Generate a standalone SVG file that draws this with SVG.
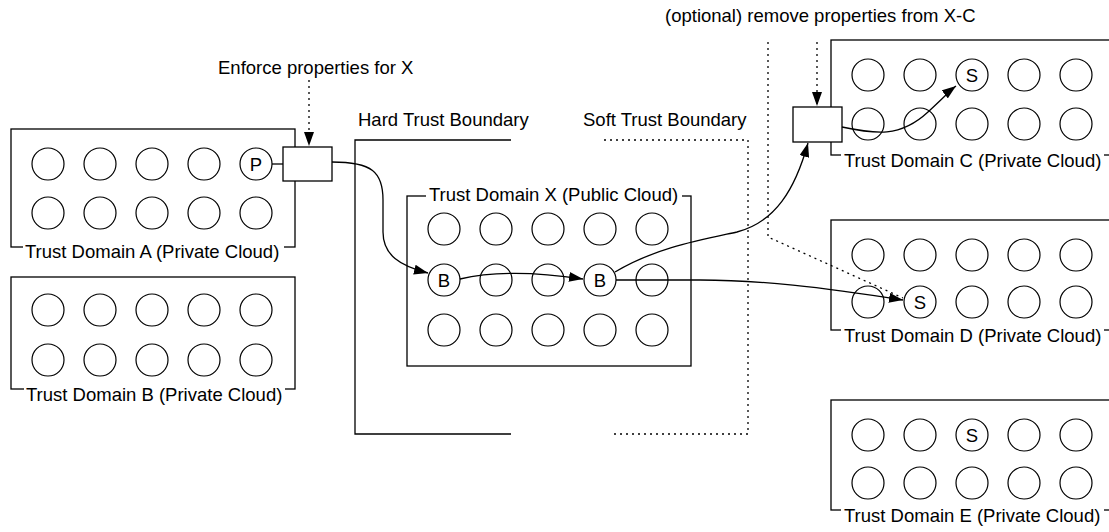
<svg xmlns="http://www.w3.org/2000/svg" width="1109" height="532" viewBox="0 0 1109 532">
<defs>
<style>
.bx{fill:none;stroke:#000;stroke-width:1.3}
.gw{fill:#fff;stroke:#000;stroke-width:1.3}
.c{fill:none;stroke:#000;stroke-width:1.2}
.t{font-family:"Liberation Sans",Arial,Helvetica,sans-serif;font-size:18.5px;fill:#000}
.ct{font-family:"Liberation Sans",Arial,Helvetica,sans-serif;font-size:18.5px;fill:#000;text-anchor:middle}
.mk{fill:#fff;stroke:none}
.ln{fill:none;stroke:#000;stroke-width:1.3}
.dt{fill:none;stroke:#000;stroke-width:1.3;stroke-dasharray:2 4}
</style>
<marker id="ah" markerWidth="14" markerHeight="10" refX="14" refY="5" orient="auto" markerUnits="userSpaceOnUse">
<path d="M0,0 L14,5 L0,10 z" fill="#000"/>
</marker>
</defs>
<rect width="1109" height="532" fill="#fff"/>

<g id="domain-a">
<rect class="bx" x="11" y="129" width="284" height="118"/>
<rect class="mk" x="23" y="244" width="261" height="6"/>
<text class="t" x="25" y="257.5">Trust Domain A (Private Cloud)</text>
<circle class="c" cx="48" cy="164" r="16"/><circle class="c" cx="100" cy="164" r="16"/><circle class="c" cx="152" cy="164" r="16"/><circle class="c" cx="204" cy="164" r="16"/><circle class="c" cx="256" cy="164" r="16"/>
<text class="ct" x="256" y="170.5">P</text>
<circle class="c" cx="48" cy="213" r="16"/><circle class="c" cx="100" cy="213" r="16"/><circle class="c" cx="152" cy="213" r="16"/><circle class="c" cx="204" cy="213" r="16"/><circle class="c" cx="256" cy="213" r="16"/>
</g>

<g id="gateway-a">
<rect class="gw" x="283" y="147" width="49" height="34"/>
</g>

<g id="domain-b">
<rect class="bx" x="11" y="277" width="284" height="112"/>
<rect class="mk" x="24" y="386" width="261" height="6"/>
<text class="t" x="26" y="400.5">Trust Domain B (Private Cloud)</text>
<circle class="c" cx="48" cy="310" r="16"/><circle class="c" cx="100" cy="310" r="16"/><circle class="c" cx="152" cy="310" r="16"/><circle class="c" cx="204" cy="310" r="16"/><circle class="c" cx="256" cy="310" r="16"/>
<circle class="c" cx="48" cy="360" r="16"/><circle class="c" cx="100" cy="360" r="16"/><circle class="c" cx="152" cy="360" r="16"/><circle class="c" cx="204" cy="360" r="16"/><circle class="c" cx="256" cy="360" r="16"/>
</g>

<g id="hard-boundary">
<path class="ln" d="M511,140 H355 V434 H511"/>
<text class="t" x="358" y="126">Hard Trust Boundary</text>
</g>

<g id="soft-boundary">
<path class="dt" d="M604,140 H748 V434 H610"/>
<text class="t" x="583" y="126">Soft Trust Boundary</text>
<path class="dt" d="M768,42 V237 L903,298"/>
</g>

<g id="domain-x">
<rect class="bx" x="407" y="196" width="284" height="170"/>
<rect class="mk" x="426" y="192" width="256" height="8"/>
<text class="t" x="429" y="201">Trust Domain X (Public Cloud)</text>
<circle class="c" cx="444" cy="229" r="16"/><circle class="c" cx="496" cy="229" r="16"/><circle class="c" cx="548" cy="229" r="16"/><circle class="c" cx="600" cy="229" r="16"/><circle class="c" cx="652" cy="229" r="16"/>
<circle class="c" cx="444" cy="280" r="16"/><circle class="c" cx="496" cy="280" r="16"/><circle class="c" cx="548" cy="280" r="16"/><circle class="c" cx="600" cy="280" r="16"/><circle class="c" cx="652" cy="280" r="16"/>
<text class="ct" x="444" y="286.5">B</text>
<text class="ct" x="600" y="286.5">B</text>
<circle class="c" cx="444" cy="330" r="16"/><circle class="c" cx="496" cy="330" r="16"/><circle class="c" cx="548" cy="330" r="16"/><circle class="c" cx="600" cy="330" r="16"/><circle class="c" cx="652" cy="330" r="16"/>
</g>

<g id="domain-c">
<rect class="bx" x="831" y="40" width="284" height="115"/>
<rect class="mk" x="841" y="152" width="263" height="6"/>
<text class="t" x="844" y="167">Trust Domain C (Private Cloud)</text>
<circle class="c" cx="868" cy="75" r="16"/><circle class="c" cx="920" cy="75" r="16"/><circle class="c" cx="972" cy="75" r="16"/><circle class="c" cx="1024" cy="75" r="16"/><circle class="c" cx="1076" cy="75" r="16"/>
<text class="ct" x="972" y="81.5">S</text>
<circle class="c" cx="868" cy="124" r="16"/><circle class="c" cx="920" cy="124" r="16"/><circle class="c" cx="972" cy="124" r="16"/><circle class="c" cx="1024" cy="124" r="16"/><circle class="c" cx="1076" cy="124" r="16"/>
</g>

<g id="gateway-c">
<rect class="gw" x="793" y="107" width="49" height="35"/>
</g>

<g id="domain-d">
<rect class="bx" x="831" y="220" width="284" height="110"/>
<rect class="mk" x="841" y="327" width="263" height="6"/>
<text class="t" x="844" y="342">Trust Domain D (Private Cloud)</text>
<circle class="c" cx="868" cy="255" r="16"/><circle class="c" cx="920" cy="255" r="16"/><circle class="c" cx="972" cy="255" r="16"/><circle class="c" cx="1024" cy="255" r="16"/><circle class="c" cx="1076" cy="255" r="16"/>
<circle class="c" cx="868" cy="302" r="16"/><circle class="c" cx="920" cy="302" r="16"/><circle class="c" cx="972" cy="302" r="16"/><circle class="c" cx="1024" cy="302" r="16"/><circle class="c" cx="1076" cy="302" r="16"/>
<text class="ct" x="920" y="308.5">S</text>
</g>

<g id="domain-e">
<rect class="bx" x="831" y="400" width="284" height="110"/>
<rect class="mk" x="841" y="507" width="263" height="6"/>
<text class="t" x="844" y="522">Trust Domain E (Private Cloud)</text>
<circle class="c" cx="868" cy="435" r="16"/><circle class="c" cx="920" cy="435" r="16"/><circle class="c" cx="972" cy="435" r="16"/><circle class="c" cx="1024" cy="435" r="16"/><circle class="c" cx="1076" cy="435" r="16"/>
<text class="ct" x="972" y="441.5">S</text>
<circle class="c" cx="868" cy="483" r="16"/><circle class="c" cx="920" cy="483" r="16"/><circle class="c" cx="972" cy="483" r="16"/><circle class="c" cx="1024" cy="483" r="16"/><circle class="c" cx="1076" cy="483" r="16"/>
</g>

<g id="annotations">
<text class="t" x="218" y="73.5">Enforce properties for X</text>
<text class="t" x="665" y="22">(optional) remove properties from X-C</text>
</g>

<g id="connectors">
<path class="ln" d="M272,164 H283"/>
<path class="ln" d="M332,162 C372,162 383,172 383,200 L383,232 C383,255 400,266 428,273" marker-end="url(#ah)"/>
<path class="ln" d="M460,279 C490,272 530,271 583,279" marker-end="url(#ah)"/>
<path class="ln" d="M615,272 C655,248 700,240 737,232 C775,222 795,190 808,143" marker-end="url(#ah)"/>
<path class="ln" d="M616,280 L700,280 C760,280 820,287 903,300" marker-end="url(#ah)"/>
<path class="ln" d="M842,127 C875,134 900,138 928,112 S948,92 956,86" marker-end="url(#ah)"/>
<path class="dt" d="M309,80 V146" marker-end="url(#ah)"/>
<path class="dt" d="M817,42 V106" marker-end="url(#ah)"/>
</g>
</svg>
